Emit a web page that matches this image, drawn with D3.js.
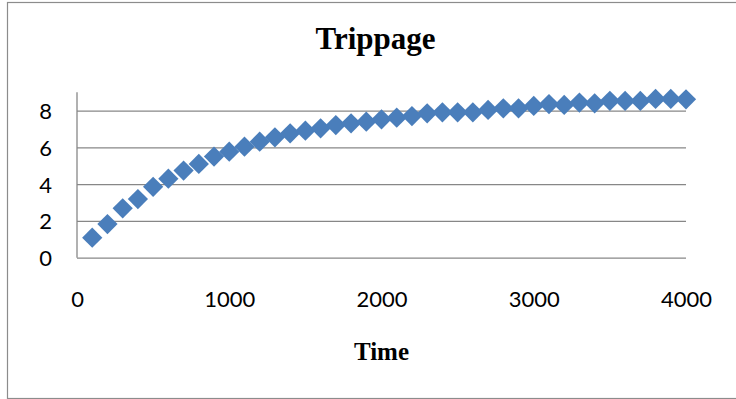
<!DOCTYPE html>
<html>
<head>
<meta charset="utf-8">
<script src="https://cdn.jsdelivr.net/npm/d3@7"></script>
<style>
  html, body { margin: 0; padding: 0; background: #fff; }
  svg { display: block; }
</style>
</head>
<body>
<svg id="chart" width="736" height="399"></svg>
<script>
// Trippage over time
const times = [100, 200, 300, 400, 500, 600, 700, 800, 900, 1000,
               1100, 1200, 1300, 1400, 1500, 1600, 1700, 1800, 1900, 2000,
               2100, 2200, 2300, 2400, 2500, 2600, 2700, 2800, 2900, 3000,
               3100, 3200, 3300, 3400, 3500, 3600, 3700, 3800, 3900, 4000];
const trippage = [1.09, 1.83, 2.69, 3.19, 3.86, 4.30, 4.74, 5.10, 5.50, 5.77,
                  6.04, 6.31, 6.55, 6.77, 6.91, 7.04, 7.22, 7.31, 7.40, 7.53,
                  7.62, 7.71, 7.86, 7.91, 7.91, 7.91, 8.04, 8.13, 8.13, 8.26,
                  8.36, 8.31, 8.44, 8.40, 8.54, 8.53, 8.53, 8.64, 8.64, 8.62];
const xTicks = [0, 1000, 2000, 3000, 4000];
const yTicks = [0, 2, 4, 6, 8];
const chartTitle = "Trippage";
const xTitle = "Time";

const svg = d3.select("#chart");
const plot = { left: 77, right: 686, top: 92.3, bottom: 257.7 };

// outer chart frame
svg.append("rect")
  .attr("x", 7.5).attr("y", 2.5)
  .attr("width", 736).attr("height", 396)
  .attr("fill", "#fff")
  .attr("stroke", "#8c8c8c").attr("stroke-width", 1.2);

const x = d3.scaleLinear().domain([0, 4000]).range([plot.left, plot.right]);
const y = d3.scaleLinear().domain([0, 9]).range([plot.bottom, plot.top]);

const tickFont = "Lato, 'Open Sans', sans-serif";

// horizontal gridlines + y tick labels
const yAxis = svg.append("g")
  .attr("transform", `translate(${plot.left},0)`)
  .call(d3.axisLeft(y).tickValues(yTicks)
    .tickSize(-(plot.right - plot.left)).tickPadding(25)
    .tickFormat(d3.format("d")));
yAxis.select(".domain").remove();
yAxis.selectAll(".tick line")
  .attr("stroke", "#878787").attr("stroke-width", 1.3);
yAxis.selectAll(".tick text")
  .attr("font-family", tickFont)
  .attr("font-size", 22).attr("fill", "#000")
  .attr("dy", "0.36em");

// vertical axis line
svg.append("line")
  .attr("x1", plot.left).attr("x2", plot.left)
  .attr("y1", plot.top).attr("y2", plot.bottom)
  .attr("stroke", "#878787").attr("stroke-width", 1.3);

// x tick labels
const xAxis = svg.append("g")
  .attr("transform", `translate(0,${plot.bottom})`)
  .call(d3.axisBottom(x).tickValues(xTicks).tickSize(0).tickPadding(34)
    .tickFormat(d3.format("d")));
xAxis.select(".domain").remove();
xAxis.selectAll(".tick text")
  .attr("font-family", tickFont)
  .attr("font-size", 22).attr("fill", "#000");

// diamond markers
const data = times.map((t, i) => ({ t, v: trippage[i] }));
const diamond = d3.symbol(d3.symbolSquare, 205);
svg.append("g")
  .selectAll("path")
  .data(data)
  .join("path")
  .attr("d", diamond)
  .attr("transform", d => `translate(${x(d.t)},${y(d.v)}) rotate(45)`)
  .attr("fill", "#4a7ebb");

// titles
svg.append("text")
  .attr("x", 375.5).attr("y", 49)
  .attr("text-anchor", "middle")
  .attr("font-family", "'Liberation Serif', 'Times New Roman', serif")
  .attr("font-weight", "bold").attr("font-size", 31)
  .text(chartTitle);

svg.append("text")
  .attr("x", (plot.left + plot.right) / 2).attr("y", 360)
  .attr("text-anchor", "middle")
  .attr("font-family", "'Liberation Serif', 'Times New Roman', serif")
  .attr("font-weight", "bold").attr("font-size", 25)
  .text(xTitle);
</script>
</body>
</html>
